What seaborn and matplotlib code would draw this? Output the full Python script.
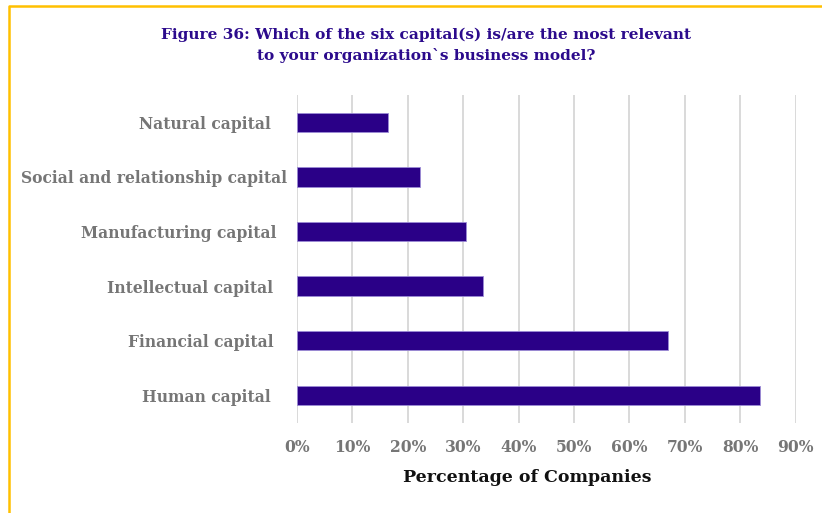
import matplotlib
matplotlib.use("Agg")
import matplotlib.pyplot as plt
from matplotlib.lines import Line2D
from matplotlib.ticker import PercentFormatter
import seaborn as sns
import pandas as pd

categories = [
    "Natural capital",
    "Social and relationship capital",
    "Manufacturing capital",
    "Intellectual capital",
    "Financial capital",
    "Human capital",
]
# share of companies naming each capital (fraction)
values = [0.165, 0.223, 0.305, 0.335, 0.670, 0.835]
# trailing spaces keep the label offsets of the original layout
label_text = [
    "Natural capital   ",
    "Social and relationship capital",
    "Manufacturing capital  ",
    "Intellectual capital  \u2009",
    "Financial capital  \u2009",
    "Human capital   ",
]
xticks = [0.0, 0.1, 0.2, 0.3, 0.4, 0.5, 0.6, 0.7, 0.8, 0.9]

title = ("Figure 36: Which of the six capital(s) is/are the most relevant\n"
         "to your organization`s business model?")
xlabel = "Percentage of Companies"

sns.set_theme(style="white")
plt.rcParams["font.family"] = ["DejaVu Serif", "Liberation Serif"]

bar_color = "#2A0087"
title_color = "#2B0A8C"
tick_color = "#767676"

df = pd.DataFrame({"capital": categories, "share": values})

fig = plt.figure(figsize=(8.22, 5.13), dpi=100)
ax = fig.add_axes([0.3612, 0.1762, 0.968 - 0.3612, 0.8148 - 0.1762])

sns.barplot(data=df, x="share", y="capital", order=categories, color=bar_color,
            width=0.353, saturation=1, edgecolor="#9C8CD6", linewidth=0.6,
            ax=ax, zorder=3)

ax.set_xlim(0, 0.9)
ax.set_ylim(5.5, -0.5)
ax.set_xticks(xticks)
ax.xaxis.set_major_formatter(PercentFormatter(1.0, decimals=0))
ax.grid(axis="x", color="#D9D9D9", linewidth=1.4, zorder=0)
ax.grid(axis="y", visible=False)
for s in ax.spines.values():
    s.set_visible(False)

ax.set_yticks(range(len(categories)))
ax.set_yticklabels(label_text)
ax.tick_params(axis="y", length=0, pad=7, labelsize=11.2, labelcolor=tick_color)
ax.tick_params(axis="x", length=0, pad=12, labelsize=11.2, labelcolor=tick_color)
for t in ax.get_xticklabels() + ax.get_yticklabels():
    t.set_fontweight("bold")

ax.set_ylabel("")
ax.set_xlabel(xlabel, fontsize=12.5, fontweight="bold", color="#111111")
ax.xaxis.set_label_coords(0.462, -0.143)

fig.text(0.518, 0.912, title, ha="center", va="center", fontsize=11.1,
         fontweight="bold", color=title_color, linespacing=1.5)

# gold frame along the top and left edges
frame = "#FFC000"
fig.add_artist(Line2D([9.5 / 822, 1.0], [1 - 6 / 513, 1 - 6 / 513],
                      transform=fig.transFigure, color=frame, linewidth=1.8))
fig.add_artist(Line2D([9 / 822, 9 / 822], [1 - 6 / 513, 0.0],
                      transform=fig.transFigure, color=frame, linewidth=1.8))

fig.savefig("out.png", dpi=100)
